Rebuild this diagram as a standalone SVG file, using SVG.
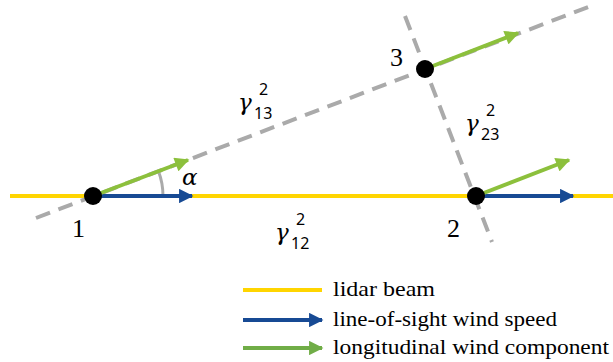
<svg xmlns="http://www.w3.org/2000/svg" width="613" height="362" viewBox="0 0 613 362">
<defs>
<style>
.beam{stroke:#ffd500;stroke-width:4;fill:none}
.dash{stroke:#aaaaaa;stroke-width:4;stroke-dasharray:15 9;fill:none}
.los{stroke:#174a94;stroke-width:4;fill:none}
.lon{stroke:#8cc03c;stroke-width:4;fill:none}
.lonL{stroke:#70ad47;stroke-width:4;fill:none}
.num{font-family:"Liberation Serif",serif;font-size:26px;fill:#000}
.g{font-family:"DejaVu Serif",serif;font-style:italic;font-size:23px;fill:#000}
.idx{font-family:"Noto Sans","DejaVu Sans",sans-serif;font-size:16px;font-style:normal;fill:#000}
.leg{font-family:"Liberation Serif",serif;font-size:21px;fill:#000}
</style>
<marker id="hb" viewBox="0 0 10 10" refX="9" refY="5" markerWidth="4" markerHeight="3.6" orient="auto" markerUnits="strokeWidth"><path d="M0,0 L10,5 L0,10 z" fill="#174a94"/></marker>
<marker id="hg" viewBox="0 0 10 10" refX="9" refY="5" markerWidth="4" markerHeight="3.6" orient="auto" markerUnits="strokeWidth"><path d="M0,0 L10,5 L0,10 z" fill="#8cc03c"/></marker>
<marker id="hgL" viewBox="0 0 10 10" refX="9" refY="5" markerWidth="4" markerHeight="3.6" orient="auto" markerUnits="strokeWidth"><path d="M0,0 L10,5 L0,10 z" fill="#70ad47"/></marker>
</defs>
<g id="connectors">
<line class="beam" x1="10" y1="196" x2="613" y2="196"/>
<line class="dash" x1="36" y1="218" x2="596" y2="4"/>
<line class="dash" x1="405" y1="16" x2="492" y2="242"/>
<path d="M163,196 A70,70 0 0 0 158.4,171" stroke="#aaaaaa" stroke-width="3" fill="none"/>
<line class="los" x1="93" y1="196" x2="192" y2="196" marker-end="url(#hb)"/>
<line class="lon" x1="93" y1="196" x2="188" y2="160" marker-end="url(#hg)"/>
<line class="los" x1="476" y1="196" x2="573" y2="196" marker-end="url(#hb)"/>
<line class="lon" x1="476" y1="196" x2="569" y2="160" marker-end="url(#hg)"/>
<line class="lon" x1="425" y1="69" x2="518" y2="33" marker-end="url(#hg)"/>
</g>
<g id="node1">
<circle cx="93" cy="196" r="9" fill="#000"/>
<text class="num" x="72" y="237">1</text>
</g>
<g id="node2">
<circle cx="476" cy="196" r="9" fill="#000"/>
<text class="num" x="447" y="237">2</text>
</g>
<g id="node3">
<circle cx="425" cy="69" r="9" fill="#000"/>
<text class="num" x="390" y="66">3</text>
</g>
<g id="labels">
<text class="g" x="182" y="185">α</text>
<text class="g" x="238" y="110">γ</text>
<text class="idx" x="259" y="95">2</text>
<text class="idx" x="254" y="119">13</text>
<text class="g" x="465" y="131">γ</text>
<text class="idx" x="486" y="116">2</text>
<text class="idx" x="481" y="140">23</text>
<text class="g" x="275" y="240">γ</text>
<text class="idx" x="296" y="225">2</text>
<text class="idx" x="291" y="249">12</text>
</g>
<g id="legend">
<line class="beam" x1="243" y1="290" x2="322" y2="290"/>
<line class="los" x1="243" y1="320" x2="322" y2="320" marker-end="url(#hb)"/>
<line class="lonL" x1="243" y1="348" x2="322" y2="348" marker-end="url(#hgL)"/>
<text class="leg" x="333" y="296" textLength="102" lengthAdjust="spacingAndGlyphs">lidar beam</text>
<text class="leg" x="333" y="326" textLength="224" lengthAdjust="spacingAndGlyphs">line-of-sight wind speed</text>
<text class="leg" x="333" y="354" textLength="276" lengthAdjust="spacingAndGlyphs">longitudinal wind component</text>
</g>
</svg>
